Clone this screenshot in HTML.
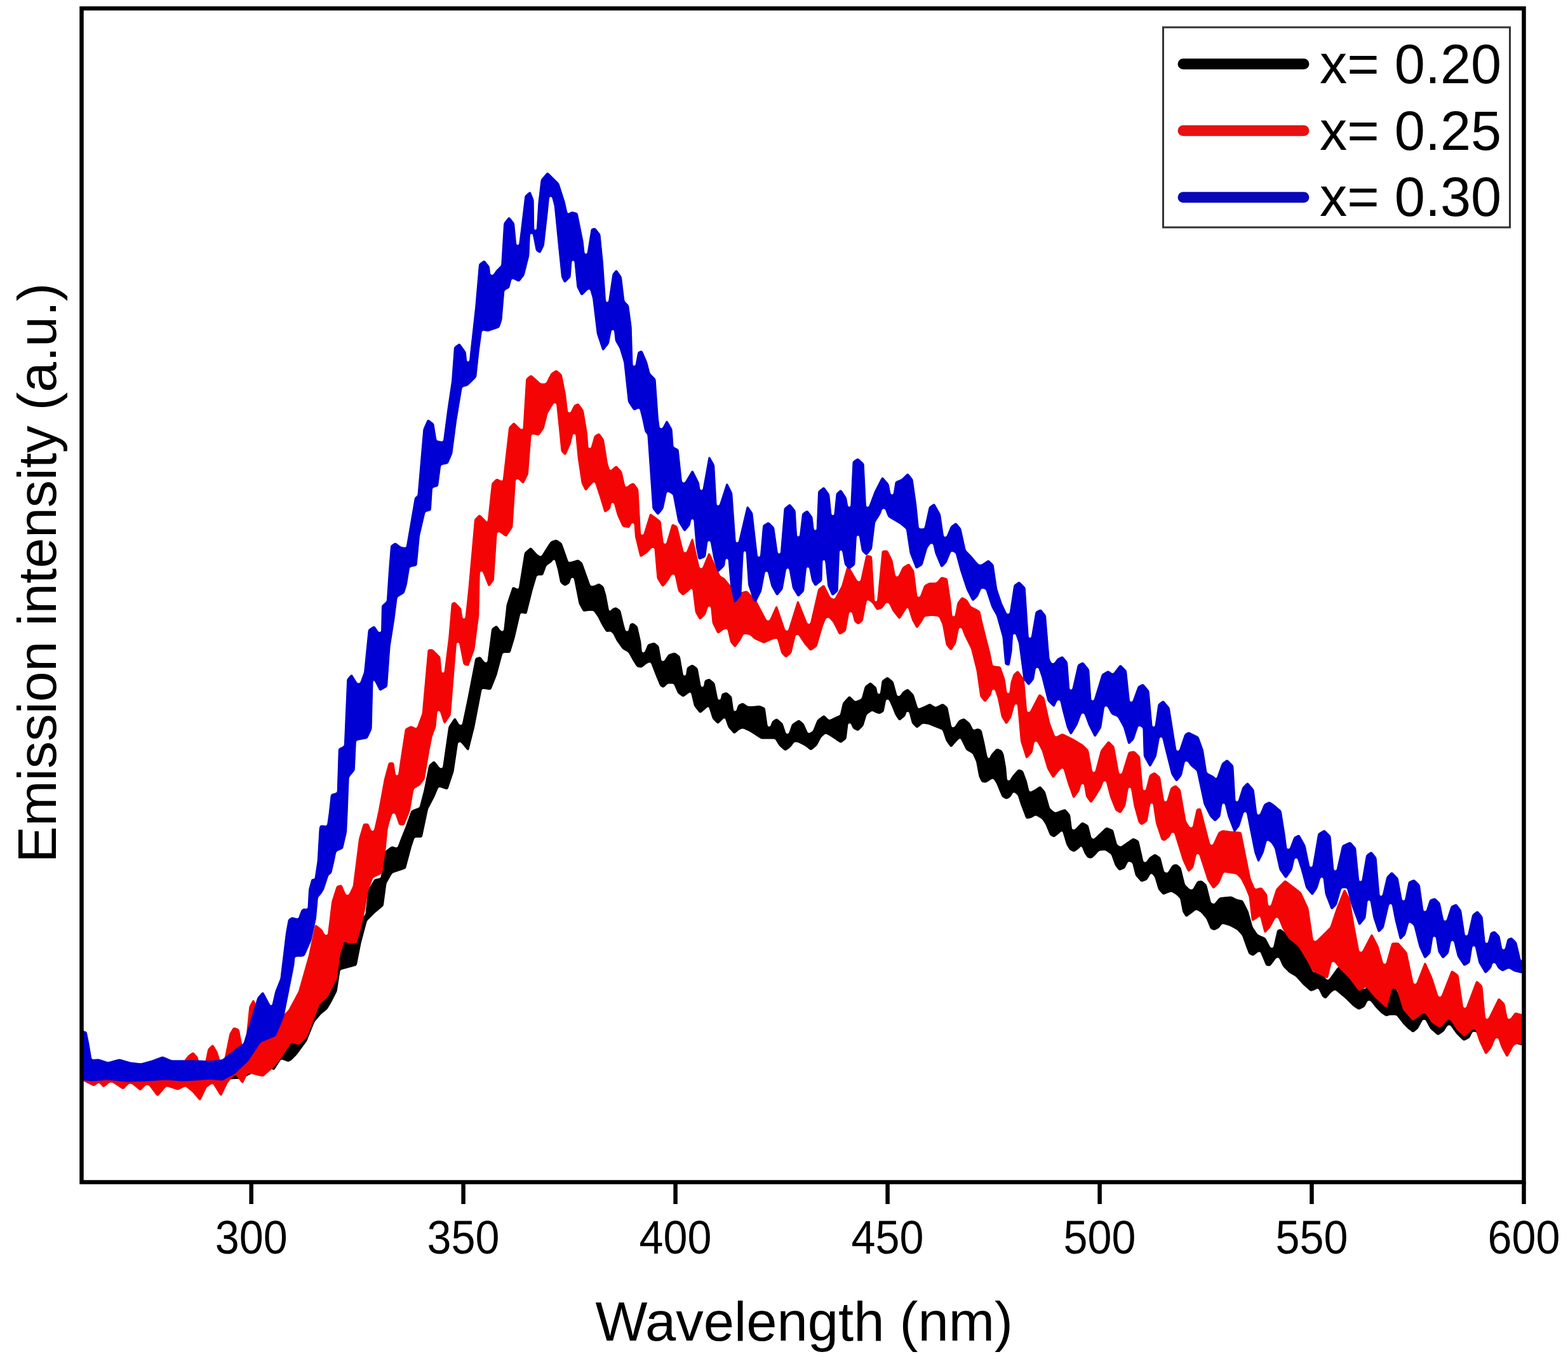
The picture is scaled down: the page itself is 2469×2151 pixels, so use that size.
<!DOCTYPE html>
<html><head><meta charset="utf-8"><title>Emission spectra</title>
<style>
html,body{margin:0;padding:0;background:#fff;overflow:hidden;}
svg{display:block;}
text{font-family:"Liberation Sans",Arial,sans-serif;fill:#000;}
</style></head>
<body>
<svg width="2469" height="2151" viewBox="0 0 2469 2151">
<rect x="0" y="0" width="2469" height="2151" fill="#fff"/>
<defs><filter id="rnd" x="-2%" y="-2%" width="104%" height="104%" color-interpolation-filters="sRGB"><feGaussianBlur in="SourceGraphic" stdDeviation="1.6"/><feComponentTransfer><feFuncA type="linear" slope="4" intercept="-1.6"/></feComponentTransfer></filter></defs>
<g stroke-linejoin="round" stroke-width="1.5">
<path d="M128.0,1688.0 L200.0,1690.0 L300.0,1690.0 L370.0,1686.0 L376.6,1697.0 L381.4,1697.0 L387.0,1680.0 L411.0,1686.0 L427.0,1672.0 L439.5,1656.0 L455.5,1632.0 L467.6,1636.0 L479.6,1624.0 L487.6,1604.0 L499.7,1572.0 L511.7,1562.0 L527.0,1532.0 L532.0,1494.6 L539.2,1471.0 L543.9,1475.8 L558.0,1475.8 L565.0,1452.4 L576.0,1440.0 L580.0,1402.0 L590.0,1385.0 L600.0,1383.0 L607.5,1340.0 L617.0,1333.0 L626.0,1336.0 L632.0,1320.0 L640.0,1300.0 L648.0,1277.0 L655.0,1274.0 L661.0,1272.0 L668.0,1245.0 L676.0,1205.0 L683.4,1198.5 L692.7,1210.2 L697.5,1210.2 L706.9,1144.6 L716.2,1130.5 L723.2,1142.2 L728.0,1142.2 L737.3,1097.7 L749.0,1036.8 L756.1,1034.5 L763.0,1043.8 L767.8,1043.8 L774.8,990.0 L781.8,985.3 L788.8,994.6 L793.6,994.6 L798.2,952.5 L807.6,924.3 L817.0,929.0 L826.4,870.5 L835.7,862.3 L845.1,872.8 L852.1,877.5 L863.8,858.7 L868.0,852.8 L876.1,850.1 L884.1,855.5 L890.8,874.2 L894.8,886.3 L904.2,883.6 L910.2,881.6 L916.3,886.3 L923.0,905.0 L929.7,923.8 L936.4,922.4 L943.1,919.1 L949.8,923.8 L953.8,937.2 L959.1,965.3 L964.5,958.6 L969.8,956.6 L976.5,961.3 L981.9,984.1 L984.9,994.8 L989.7,994.8 L992.6,982.7 L996.6,981.4 L1003.3,986.7 L1008.7,1010.8 L1010.3,1028.3 L1015.1,1028.3 L1020.7,1014.9 L1030.1,1012.2 L1036.8,1017.5 L1041.1,1041.7 L1045.9,1041.7 L1052.9,1031.0 L1062.3,1027.9 L1070.1,1033.5 L1075.6,1064.7 L1080.4,1064.7 L1082.4,1051.3 L1090.2,1046.9 L1098.0,1052.5 L1103.5,1082.6 L1108.3,1082.6 L1110.3,1071.4 L1117.0,1069.2 L1124.8,1075.9 L1130.2,1102.7 L1135.0,1102.7 L1137.1,1092.6 L1143.8,1090.4 L1151.6,1097.1 L1154.8,1120.5 L1159.6,1120.5 L1162.8,1110.5 L1169.5,1107.2 L1177.3,1112.7 L1185.1,1112.7 L1196.3,1111.6 L1204.1,1115.0 L1208.4,1145.1 L1213.2,1145.1 L1216.4,1136.2 L1223.1,1131.7 L1232.0,1139.5 L1237.4,1156.3 L1242.2,1156.3 L1247.6,1140.6 L1258.0,1133.8 L1265.2,1140.0 L1272.3,1156.1 L1280.4,1151.6 L1287.5,1133.8 L1297.3,1126.6 L1305.4,1134.6 L1317.9,1128.4 L1323.2,1126.6 L1327.7,1107.0 L1337.5,1096.2 L1346.4,1105.2 L1357.1,1100.7 L1362.5,1081.0 L1370.5,1074.8 L1379.5,1082.9 L1381.5,1093.6 L1386.3,1093.6 L1389.3,1072.1 L1397.4,1066.3 L1406.1,1073.5 L1412.4,1096.7 L1417.2,1096.7 L1422.1,1089.5 L1429.3,1085.1 L1438.0,1093.8 L1445.3,1117.0 L1455.5,1112.7 L1464.2,1108.3 L1472.9,1114.1 L1484.5,1108.3 L1491.7,1114.1 L1498.0,1146.1 L1502.8,1146.1 L1510.6,1134.5 L1517.9,1131.6 L1526.6,1138.8 L1532.4,1150.4 L1539.6,1147.5 L1545.0,1150.0 L1549.3,1168.1 L1553.7,1189.9 L1556.6,1197.9 L1561.7,1187.7 L1569.7,1179.0 L1576.9,1181.9 L1579.8,1187.7 L1583.5,1208.1 L1585.4,1229.8 L1590.2,1229.8 L1594.3,1222.6 L1603.8,1211.7 L1610.3,1213.9 L1616.1,1229.8 L1620.6,1248.3 L1629.3,1244.0 L1638.0,1238.2 L1645.3,1246.9 L1652.6,1273.0 L1661.3,1280.3 L1668.5,1277.4 L1677.2,1274.5 L1684.5,1283.2 L1687.6,1307.1 L1692.4,1307.1 L1704.1,1295.0 L1713.1,1300.0 L1718.2,1320.1 L1722.2,1322.1 L1742.3,1303.1 L1752.3,1307.1 L1758.4,1330.2 L1764.4,1334.2 L1784.5,1320.1 L1792.5,1324.2 L1798.5,1350.3 L1800.2,1358.3 L1805.0,1358.3 L1810.6,1350.3 L1818.6,1345.2 L1826.7,1350.3 L1832.7,1373.4 L1838.7,1375.4 L1846.8,1362.3 L1852.8,1361.3 L1858.8,1366.3 L1865.4,1393.2 L1873.7,1401.2 L1878.5,1401.2 L1885.9,1387.9 L1892.1,1387.0 L1899.3,1393.2 L1906.4,1421.8 L1911.8,1424.5 L1920.7,1413.8 L1938.6,1412.0 L1947.5,1416.4 L1956.4,1418.2 L1965.0,1435.0 L1972.0,1460.0 L1980.0,1472.0 L1992.1,1477.1 L2000.5,1493.2 L2005.3,1493.2 L2011.8,1464.6 L2016.3,1463.4 L2025.0,1470.0 L2032.2,1477.9 L2040.9,1486.6 L2055.0,1505.0 L2067.1,1531.6 L2081.6,1531.6 L2087.9,1543.2 L2092.7,1543.2 L2106.3,1524.3 L2116.4,1517.0 L2130.0,1530.0 L2145.9,1557.7 L2150.7,1557.7 L2162.9,1535.9 L2175.0,1545.0 L2183.7,1560.6 L2188.5,1560.6 L2194.8,1551.9 L2209.0,1580.0 L2222.6,1595.0 L2227.4,1595.0 L2242.4,1567.4 L2255.0,1590.0 L2264.7,1600.0 L2269.5,1600.0 L2281.6,1587.7 L2295.0,1605.0 L2306.0,1615.0 L2320.0,1610.0 L2340.0,1620.0 L2354.1,1619.6 L2370.0,1628.0 L2386.1,1632.0 L2398.0,1634.0 L2398.0,1645.8 L2386.1,1642.8 L2354.1,1632.7 L2339.6,1634.1 L2323.2,1624.0 L2318.4,1624.0 L2313.5,1634.1 L2304.8,1638.5 L2293.2,1626.9 L2284.0,1613.8 L2279.2,1613.8 L2272.9,1624.0 L2264.2,1629.8 L2252.6,1619.6 L2244.8,1605.1 L2240.0,1605.1 L2232.2,1619.6 L2225.0,1625.4 L2217.7,1619.6 L2210.0,1612.0 L2198.9,1597.9 L2187.3,1597.9 L2183.2,1600.0 L2175.9,1595.4 L2167.2,1586.7 L2158.0,1575.1 L2153.2,1575.1 L2148.3,1585.2 L2139.6,1589.6 L2130.9,1583.8 L2119.3,1572.2 L2101.9,1557.7 L2094.6,1563.5 L2087.4,1572.2 L2083.0,1569.3 L2075.8,1554.8 L2071.4,1557.7 L2064.2,1560.6 L2052.6,1550.4 L2040.9,1537.4 L2030.8,1531.6 L2020.6,1521.4 L2014.2,1507.5 L2009.4,1507.5 L2004.6,1514.6 L1999.3,1520.9 L1993.9,1520.0 L1989.5,1509.3 L1984.1,1496.8 L1979.6,1499.5 L1973.4,1504.8 L1967.1,1502.1 L1962.7,1490.5 L1956.4,1472.7 L1948.4,1463.8 L1936.8,1457.5 L1924.3,1453.9 L1918.9,1461.0 L1911.8,1464.6 L1906.4,1462.0 L1900.2,1446.8 L1891.2,1436.1 L1883.2,1431.6 L1877.9,1436.1 L1867.8,1443.7 L1862.8,1435.7 L1858.8,1414.6 L1852.8,1408.5 L1844.7,1403.5 L1838.7,1405.5 L1831.7,1408.5 L1824.6,1400.5 L1818.6,1380.4 L1812.6,1373.4 L1805.6,1385.4 L1797.5,1388.4 L1788.5,1378.4 L1783.5,1358.3 L1776.4,1355.3 L1770.4,1367.3 L1762.4,1370.4 L1756.3,1362.3 L1750.3,1345.2 L1740.3,1338.2 L1730.2,1339.2 L1724.2,1346.3 L1718.2,1351.3 L1713.1,1350.3 L1708.1,1343.2 L1703.1,1330.2 L1698.1,1336.2 L1691.0,1341.2 L1685.0,1338.2 L1680.0,1330.2 L1672.9,1306.4 L1667.1,1312.2 L1659.8,1318.0 L1654.0,1315.1 L1646.8,1297.7 L1641.0,1289.0 L1630.8,1283.2 L1623.5,1287.5 L1616.3,1289.0 L1607.6,1266.0 L1603.0,1251.6 L1595.8,1245.8 L1590.7,1254.5 L1584.9,1258.1 L1578.4,1254.5 L1574.0,1244.3 L1569.7,1233.5 L1563.9,1224.7 L1558.0,1228.4 L1552.2,1232.0 L1546.4,1231.3 L1542.1,1222.6 L1537.7,1199.3 L1531.9,1186.3 L1521.8,1180.5 L1512.1,1160.6 L1506.3,1166.4 L1497.5,1176.5 L1490.3,1166.4 L1484.5,1149.0 L1472.9,1144.6 L1462.7,1140.3 L1452.6,1138.8 L1443.9,1146.1 L1436.6,1138.8 L1431.7,1120.0 L1426.9,1120.0 L1425.0,1127.2 L1416.3,1134.5 L1410.0,1125.0 L1405.4,1113.2 L1399.7,1100.7 L1394.9,1100.7 L1391.0,1120.4 L1384.8,1123.9 L1379.5,1122.1 L1373.2,1118.6 L1364.3,1124.8 L1358.9,1142.7 L1350.9,1150.7 L1343.8,1147.1 L1339.9,1138.2 L1335.1,1138.2 L1332.1,1163.2 L1324.1,1169.5 L1317.0,1165.0 L1308.0,1158.8 L1300.0,1154.3 L1292.9,1160.5 L1285.7,1174.0 L1276.8,1181.1 L1267.9,1174.0 L1257.1,1168.6 L1251.0,1167.4 L1244.3,1176.4 L1236.5,1182.0 L1227.5,1174.1 L1220.8,1163.0 L1207.4,1163.0 L1198.5,1163.0 L1188.5,1156.3 L1179.5,1150.7 L1169.5,1146.2 L1163.9,1148.5 L1156.1,1155.1 L1147.2,1145.1 L1141.6,1128.4 L1138.2,1131.7 L1130.4,1139.5 L1122.6,1131.7 L1115.9,1110.5 L1110.3,1116.1 L1102.5,1122.8 L1093.6,1111.6 L1088.0,1088.2 L1083.5,1091.5 L1075.7,1097.1 L1067.9,1091.5 L1061.2,1075.9 L1051.2,1075.9 L1044.5,1082.6 L1040.0,1080.0 L1033.5,1064.5 L1024.8,1041.7 L1018.1,1044.3 L1010.0,1051.0 L1003.3,1049.7 L996.6,1039.0 L989.9,1026.9 L980.6,1021.6 L971.2,1008.2 L965.8,997.5 L961.8,993.4 L955.1,994.8 L948.4,984.1 L941.7,970.7 L935.0,961.3 L927.0,961.3 L918.9,962.6 L912.2,950.6 L906.9,923.8 L903.9,909.0 L899.1,909.0 L896.2,918.4 L889.5,922.4 L882.8,917.1 L878.8,897.0 L873.4,878.2 L868.0,884.9 L860.0,890.3 L854.5,905.6 L845.1,905.6 L838.1,929.0 L828.7,966.5 L819.3,964.2 L810.0,1004.0 L803.0,1027.4 L791.2,1027.4 L781.8,1062.6 L772.5,1086.0 L758.4,1083.7 L746.7,1144.6 L737.3,1182.0 L725.7,1168.0 L720.9,1168.0 L713.9,1214.9 L704.5,1243.0 L690.5,1238.3 L683.4,1255.0 L673.5,1273.8 L664.1,1318.3 L652.4,1318.3 L647.7,1332.4 L638.3,1367.6 L617.2,1374.6 L607.9,1391.0 L603.2,1426.2 L589.1,1437.9 L577.4,1449.6 L568.0,1484.8 L561.0,1520.0 L535.2,1527.0 L530.0,1561.0 L522.8,1575.0 L514.7,1589.0 L504.7,1597.0 L494.7,1609.0 L482.6,1639.0 L466.5,1661.0 L458.5,1669.0 L454.0,1671.5 L442.5,1667.0 L431.0,1685.0 L426.0,1681.0 L406.0,1685.0 L396.0,1690.0 L380.0,1698.0 L300.0,1702.0 L200.0,1702.0 L128.0,1700.0 Z" fill="#000000" stroke="#000000" filter="url(#rnd)"/>
<path d="M128.0,1682.0 L150.0,1686.0 L200.0,1686.0 L250.0,1684.0 L285.0,1678.0 L297.0,1662.0 L304.0,1657.0 L311.0,1665.0 L315.6,1688.0 L320.4,1688.0 L328.0,1652.0 L335.0,1645.0 L342.0,1657.0 L347.6,1675.0 L352.4,1675.0 L362.0,1628.0 L368.0,1618.0 L376.0,1621.0 L381.6,1650.0 L386.4,1650.0 L393.0,1585.0 L399.0,1574.0 L405.0,1588.0 L420.0,1610.0 L440.0,1605.0 L454.5,1591.0 L470.6,1561.0 L486.6,1504.5 L496.7,1456.0 L506.7,1464.0 L511.6,1473.0 L516.4,1473.0 L522.8,1420.0 L530.5,1395.7 L537.5,1393.4 L544.6,1409.8 L549.4,1409.8 L556.3,1395.7 L565.7,1320.7 L572.7,1297.2 L579.7,1297.2 L584.4,1309.0 L589.2,1309.0 L596.1,1278.5 L605.5,1226.9 L612.5,1201.1 L619.6,1201.1 L622.6,1221.7 L627.4,1221.7 L632.0,1190.0 L638.5,1148.0 L647.4,1143.5 L656.3,1148.0 L665.3,1123.4 L674.2,1023.0 L681.0,1022.8 L692.8,1034.5 L695.1,1060.2 L699.9,1060.2 L706.9,1004.0 L711.5,950.1 L715.8,948.1 L725.6,958.0 L728.1,975.1 L732.9,975.1 L737.9,928.5 L747.7,817.9 L755.1,810.6 L764.9,820.4 L767.4,830.2 L774.8,761.4 L782.1,754.0 L792.0,759.0 L801.8,673.0 L809.1,665.6 L819.0,675.5 L823.9,678.0 L828.8,596.8 L836.2,590.7 L846.0,599.3 L850.9,604.2 L860.0,604.1 L868.1,588.1 L876.1,583.0 L884.2,590.1 L890.2,620.2 L893.8,650.3 L898.6,650.3 L904.3,638.3 L910.3,635.3 L918.3,646.3 L924.3,682.4 L926.0,706.5 L930.8,706.5 L936.4,686.5 L943.4,682.4 L950.4,692.5 L956.5,730.6 L960.5,742.7 L966.5,736.7 L970.5,733.7 L978.6,742.7 L984.6,768.8 L992.6,762.8 L997.6,760.8 L1004.7,770.8 L1008.6,843.0 L1013.4,843.0 L1024.0,808.8 L1040.0,820.8 L1044.5,857.0 L1049.3,857.0 L1058.6,825.2 L1066.0,828.8 L1076.3,870.4 L1081.1,870.4 L1090.4,847.0 L1101.4,895.5 L1106.2,895.5 L1116.5,870.0 L1133.9,907.2 L1140.6,911.0 L1160.0,935.0 L1175.7,930.6 L1190.0,945.0 L1207.1,977.7 L1211.9,977.7 L1222.8,953.6 L1236.5,993.7 L1241.3,993.7 L1256.3,945.5 L1271.3,983.0 L1276.1,983.0 L1288.8,927.8 L1297.2,921.0 L1307.2,941.2 L1313.9,944.5 L1325.7,922.8 L1335.0,890.0 L1350.3,916.1 L1355.1,916.1 L1364.2,874.2 L1372.5,876.0 L1376.8,947.9 L1381.6,947.9 L1389.3,867.5 L1397.0,866.9 L1404.7,882.0 L1409.8,908.6 L1414.6,908.6 L1421.7,893.4 L1431.2,887.7 L1438.8,899.1 L1444.0,940.8 L1448.8,940.8 L1455.9,921.9 L1463.4,918.0 L1474.8,918.0 L1482.4,908.6 L1491.4,911.3 L1497.0,949.3 L1499.0,971.6 L1503.8,971.6 L1508.1,949.3 L1514.8,940.4 L1522.6,944.8 L1528.2,954.9 L1537.2,959.3 L1542.7,962.7 L1547.2,982.8 L1552.8,1005.1 L1558.5,1027.1 L1562.8,1048.8 L1575.0,1050.0 L1582.0,1070.0 L1585.1,1092.4 L1589.9,1092.4 L1592.0,1075.0 L1596.2,1061.9 L1602.8,1056.4 L1612.2,1069.6 L1616.8,1122.1 L1621.6,1122.1 L1636.6,1093.1 L1643.9,1098.9 L1652.6,1138.0 L1661.3,1161.3 L1672.9,1155.5 L1690.3,1164.2 L1704.8,1172.9 L1713.5,1181.6 L1719.8,1216.4 L1724.6,1216.4 L1733.8,1181.6 L1745.4,1167.1 L1754.1,1175.8 L1761.9,1219.3 L1766.7,1219.3 L1777.4,1184.5 L1785.8,1182.9 L1794.5,1191.6 L1799.4,1245.3 L1804.2,1245.3 L1810.5,1220.6 L1817.7,1216.3 L1826.4,1223.5 L1832.7,1262.7 L1837.5,1262.7 L1843.9,1241.0 L1851.1,1236.6 L1858.4,1243.9 L1867.1,1293.2 L1873.4,1303.4 L1878.2,1303.4 L1884.5,1274.3 L1890.3,1272.9 L1905.3,1330.9 L1910.1,1330.9 L1919.3,1310.6 L1925.1,1307.7 L1936.7,1309.2 L1954.1,1310.6 L1968.7,1383.2 L1975.9,1400.6 L1986.1,1397.7 L1994.5,1408.2 L1996.5,1427.1 L2001.3,1427.1 L2010.0,1400.0 L2023.5,1386.4 L2040.9,1399.5 L2048.2,1405.3 L2059.8,1430.0 L2067.6,1482.2 L2072.4,1482.2 L2085.0,1470.0 L2095.0,1460.0 L2105.0,1430.0 L2117.0,1400.0 L2125.0,1415.0 L2132.4,1459.0 L2140.1,1499.6 L2144.9,1499.6 L2160.0,1470.6 L2170.0,1490.0 L2177.9,1518.5 L2182.7,1518.5 L2191.9,1485.1 L2201.8,1484.7 L2215.0,1500.0 L2225.5,1550.0 L2230.3,1550.0 L2243.9,1515.1 L2255.0,1540.0 L2264.7,1570.3 L2269.5,1570.3 L2285.9,1528.2 L2296.1,1535.5 L2303.8,1587.7 L2308.6,1587.7 L2325.1,1544.2 L2333.8,1552.9 L2338.7,1605.1 L2343.5,1605.1 L2360.0,1571.7 L2368.7,1580.4 L2373.5,1605.1 L2378.3,1605.1 L2385.9,1594.6 L2398.0,1598.0 L2398.0,1644.3 L2389.0,1642.8 L2383.2,1645.8 L2373.0,1664.6 L2365.0,1650.0 L2359.4,1634.1 L2354.6,1634.1 L2348.0,1650.0 L2339.6,1660.3 L2330.0,1640.0 L2323.2,1620.0 L2318.4,1620.0 L2306.0,1632.0 L2295.0,1622.0 L2284.0,1605.0 L2279.2,1605.0 L2267.0,1618.0 L2255.0,1610.0 L2244.8,1595.0 L2240.0,1595.0 L2225.0,1607.0 L2210.0,1590.0 L2200.0,1557.7 L2191.9,1554.8 L2183.2,1586.7 L2165.0,1570.0 L2151.2,1553.3 L2140.0,1560.0 L2125.0,1540.0 L2110.0,1525.0 L2101.4,1514.1 L2096.6,1514.1 L2090.3,1540.3 L2080.0,1535.0 L2067.1,1528.7 L2060.0,1515.0 L2045.0,1490.0 L2030.0,1478.0 L2020.0,1462.0 L2012.9,1444.5 L2008.1,1444.5 L2000.0,1460.0 L1991.6,1469.2 L1984.0,1440.0 L1980.0,1445.0 L1971.6,1450.4 L1967.2,1412.2 L1961.4,1397.7 L1954.1,1383.2 L1946.9,1375.9 L1926.6,1373.0 L1919.3,1390.4 L1910.6,1399.1 L1901.9,1386.1 L1888.3,1344.0 L1883.5,1344.0 L1878.7,1365.7 L1871.4,1373.0 L1862.7,1354.1 L1849.2,1310.6 L1844.4,1310.6 L1841.0,1317.9 L1833.7,1323.7 L1829.3,1322.2 L1820.6,1296.1 L1815.8,1264.2 L1811.0,1264.2 L1806.1,1293.2 L1797.4,1299.0 L1793.3,1294.8 L1786.1,1268.7 L1781.2,1239.6 L1776.4,1239.6 L1771.6,1268.7 L1764.3,1280.3 L1757.0,1275.9 L1748.3,1254.1 L1742.0,1229.5 L1737.2,1229.5 L1733.8,1239.6 L1725.1,1254.1 L1717.9,1264.3 L1710.6,1254.1 L1707.2,1233.8 L1702.4,1233.8 L1699.0,1245.4 L1690.3,1257.0 L1681.6,1232.4 L1674.3,1207.7 L1667.1,1213.5 L1658.4,1225.1 L1649.7,1210.6 L1641.0,1181.6 L1633.2,1167.0 L1628.4,1167.0 L1625.0,1184.5 L1616.3,1194.6 L1607.6,1167.0 L1602.4,1108.0 L1597.6,1108.0 L1592.0,1129.0 L1584.6,1140.3 L1577.4,1128.7 L1571.6,1099.6 L1566.7,1085.1 L1561.9,1085.1 L1560.0,1093.8 L1551.2,1105.4 L1544.0,1096.7 L1538.2,1056.1 L1529.5,1021.3 L1519.3,1001.0 L1514.5,987.9 L1509.7,987.9 L1504.8,1012.6 L1497.5,1024.2 L1490.3,1015.5 L1484.5,983.5 L1478.7,970.5 L1467.1,969.0 L1455.5,970.5 L1452.6,976.3 L1443.9,989.3 L1436.6,976.3 L1429.3,953.1 L1426.4,958.9 L1416.3,974.8 L1406.1,961.8 L1399.8,948.7 L1395.0,948.7 L1388.9,957.6 L1380.9,960.3 L1374.2,949.5 L1364.8,942.8 L1358.1,977.7 L1351.4,983.0 L1346.0,979.0 L1341.7,962.9 L1336.9,962.9 L1331.3,993.7 L1322.0,999.1 L1312.6,980.3 L1305.6,972.3 L1300.8,972.3 L1295.2,985.7 L1285.8,1017.8 L1276.4,1024.5 L1267.0,1013.8 L1257.4,999.1 L1252.6,999.1 L1245.6,1028.5 L1237.6,1035.2 L1230.9,1028.5 L1224.2,1004.4 L1214.8,1007.1 L1202.8,1012.5 L1188.0,1005.8 L1180.8,999.2 L1170.7,997.6 L1165.7,1007.6 L1157.3,1019.3 L1150.6,1011.0 L1145.6,989.2 L1138.9,990.9 L1130.5,997.6 L1122.2,980.8 L1119.6,954.0 L1114.8,954.0 L1110.5,967.4 L1102.1,975.8 L1095.4,964.1 L1090.4,923.9 L1083.7,930.6 L1075.3,937.3 L1068.6,930.6 L1062.7,903.8 L1057.9,903.8 L1051.9,913.9 L1043.5,924.0 L1035.1,910.5 L1030.9,862.0 L1026.1,862.0 L1018.4,870.4 L1008.4,877.0 L1000.6,845.0 L999.0,823.0 L994.2,823.0 L990.6,831.0 L980.6,829.0 L972.5,811.0 L966.9,790.9 L962.1,790.9 L960.5,800.9 L952.4,807.0 L944.4,780.8 L936.4,756.7 L930.4,762.8 L922.3,772.8 L916.3,760.8 L910.3,720.6 L906.7,682.4 L901.9,682.4 L898.2,698.5 L890.2,716.6 L884.2,710.6 L880.2,670.4 L876.5,634.3 L871.7,634.3 L862.1,650.3 L856.0,674.4 L848.4,685.3 L836.2,682.8 L831.2,746.7 L823.9,761.4 L816.4,754.0 L811.6,754.0 L806.7,830.2 L796.9,845.0 L787.0,837.6 L782.2,837.6 L777.2,913.7 L769.8,923.6 L760.0,899.0 L755.2,899.0 L753.7,968.9 L746.7,1022.8 L737.3,1048.5 L730.3,1046.2 L723.3,1011.0 L718.5,1011.0 L709.2,1125.8 L699.8,1139.9 L692.9,1118.8 L688.1,1118.8 L685.8,1144.6 L680.0,1160.0 L676.0,1180.0 L668.0,1227.0 L661.0,1236.0 L651.0,1242.0 L645.0,1277.0 L636.0,1299.0 L629.0,1299.0 L622.4,1280.0 L617.6,1280.0 L614.0,1290.0 L610.0,1305.0 L607.0,1336.0 L601.2,1375.3 L587.2,1381.6 L579.4,1401.9 L574.7,1430.0 L568.0,1461.4 L561.0,1484.8 L546.9,1484.8 L542.2,1480.0 L535.0,1503.6 L530.0,1541.0 L514.7,1571.0 L502.7,1581.0 L490.6,1613.0 L482.6,1633.0 L470.6,1645.0 L458.5,1641.0 L442.5,1665.0 L430.0,1681.0 L414.0,1695.0 L390.0,1689.0 L382.0,1706.0 L372.4,1693.0 L367.6,1693.0 L358.0,1705.0 L348.0,1726.0 L335.0,1705.0 L325.0,1712.0 L315.0,1733.0 L304.0,1720.0 L292.0,1710.0 L280.0,1716.0 L262.0,1710.0 L248.0,1726.0 L234.4,1708.0 L229.6,1708.0 L221.0,1717.0 L207.4,1706.0 L202.6,1706.0 L194.0,1715.0 L177.4,1704.0 L172.6,1704.0 L163.0,1712.0 L156.0,1704.0 L148.0,1710.0 L140.0,1706.0 L128.0,1700.0 Z" fill="#f40404" stroke="#f40404" filter="url(#rnd)"/>
<path d="M128.0,1623.0 L136.0,1625.0 L140.0,1645.0 L144.0,1669.0 L155.0,1668.0 L170.0,1673.0 L188.0,1668.0 L205.0,1673.0 L222.0,1675.0 L240.0,1670.0 L256.0,1664.0 L270.0,1670.0 L290.0,1670.0 L310.0,1670.0 L330.0,1671.0 L350.0,1669.0 L370.0,1653.0 L384.0,1643.0 L406.0,1571.0 L414.0,1562.0 L424.0,1581.0 L428.0,1587.0 L434.0,1561.0 L442.0,1541.0 L450.5,1470.0 L454.5,1448.0 L459.6,1444.5 L470.0,1447.5 L474.7,1434.0 L477.7,1431.0 L485.0,1432.0 L486.7,1400.8 L491.3,1384.0 L495.8,1385.7 L500.3,1355.5 L503.3,1304.0 L504.8,1299.8 L515.4,1301.0 L518.4,1280.0 L521.4,1252.0 L522.3,1250.7 L531.3,1248.5 L533.5,1179.2 L542.4,1174.8 L546.9,1069.8 L553.6,1062.0 L562.4,1076.5 L567.2,1076.5 L573.7,1058.7 L580.4,991.7 L589.3,986.0 L595.9,996.0 L600.7,996.0 L601.6,953.7 L609.4,947.0 L612.5,900.0 L615.7,859.3 L622.4,854.8 L631.3,861.5 L640.0,863.0 L653.7,783.4 L658.0,781.0 L667.0,676.0 L673.8,660.6 L682.7,667.3 L687.0,694.0 L698.3,696.3 L705.0,645.0 L711.7,600.0 L715.6,546.9 L723.4,541.0 L733.2,554.7 L734.7,570.3 L739.5,570.3 L741.0,554.7 L748.8,484.4 L754.7,416.0 L762.5,410.2 L770.3,420.0 L771.8,433.6 L776.6,433.6 L782.0,425.8 L789.8,418.0 L793.8,351.6 L801.6,341.8 L809.4,351.6 L812.8,386.7 L817.6,386.7 L821.0,359.4 L827.0,308.6 L834.8,301.8 L840.0,315.0 L840.6,363.0 L845.4,363.0 L848.0,320.0 L852.3,283.2 L862.1,271.5 L871.9,281.2 L879.7,289.0 L889.0,318.0 L893.5,338.0 L900.0,333.6 L909.0,335.8 L918.0,380.4 L920.1,400.5 L924.9,400.5 L931.4,360.4 L937.0,359.2 L944.8,369.3 L949.3,414.0 L953.6,476.4 L958.4,476.4 L965.0,431.8 L970.5,425.0 L978.3,436.2 L982.8,474.2 L989.5,481.0 L994.0,514.4 L996.0,576.9 L1000.8,576.9 L1005.0,554.5 L1010.7,552.3 L1018.5,570.2 L1023.0,588.0 L1031.9,597.0 L1036.3,659.5 L1038.4,675.0 L1043.2,675.0 L1050.0,662.0 L1058.0,676.0 L1060.0,704.0 L1068.0,708.0 L1073.6,760.6 L1078.4,760.6 L1090.4,740.5 L1100.4,760.6 L1102.0,772.6 L1106.8,772.6 L1116.5,718.4 L1124.5,732.4 L1128.1,796.7 L1132.9,796.7 L1144.6,760.6 L1152.6,776.6 L1158.2,855.0 L1163.0,855.0 L1176.7,796.7 L1184.7,808.0 L1192.6,877.6 L1197.4,877.6 L1201.8,827.3 L1210.0,822.3 L1218.5,830.7 L1224.5,872.5 L1229.3,872.5 L1235.2,800.5 L1243.6,793.8 L1252.0,803.9 L1254.6,845.7 L1259.4,845.7 L1263.7,808.9 L1271.2,803.9 L1278.8,814.0 L1281.4,835.7 L1286.2,835.7 L1288.8,773.8 L1297.2,767.0 L1305.6,778.8 L1309.0,812.3 L1313.8,812.3 L1317.3,777.1 L1324.0,771.2 L1332.4,783.8 L1335.0,798.9 L1339.8,798.9 L1343.2,726.9 L1350.8,721.9 L1360.0,730.2 L1363.4,798.9 L1368.2,798.9 L1377.6,773.8 L1389.3,751.2 L1399.0,762.6 L1402.3,779.6 L1407.1,779.6 L1410.3,758.8 L1419.8,755.0 L1429.3,745.5 L1436.9,755.0 L1442.6,794.8 L1446.4,832.8 L1455.9,832.8 L1463.4,798.6 L1471.0,793.0 L1480.5,810.0 L1485.7,846.0 L1490.5,846.0 L1497.6,829.0 L1505.2,823.3 L1512.8,832.8 L1520.3,866.9 L1529.8,876.4 L1540.7,889.6 L1545.5,889.6 L1556.4,882.0 L1564.0,889.6 L1569.6,927.6 L1577.2,950.3 L1585.2,967.2 L1590.0,967.2 L1597.0,921.7 L1604.7,916.0 L1614.1,925.5 L1619.3,1005.2 L1624.1,1005.2 L1631.2,963.4 L1638.8,959.7 L1646.4,969.1 L1652.0,1037.4 L1655.4,1045.0 L1660.2,1045.0 L1665.3,1037.4 L1673.0,1033.6 L1680.5,1043.0 L1683.8,1086.7 L1688.6,1086.7 L1697.6,1046.9 L1705.2,1043.0 L1714.6,1054.5 L1717.9,1103.8 L1722.7,1103.8 L1735.5,1062.0 L1745.0,1056.4 L1752.6,1062.0 L1764.0,1046.9 L1773.4,1056.4 L1778.6,1105.7 L1783.4,1105.7 L1792.4,1081.0 L1800.0,1077.2 L1809.0,1088.3 L1814.1,1145.2 L1818.9,1145.2 L1824.1,1109.1 L1831.7,1103.4 L1841.2,1114.8 L1852.1,1183.1 L1856.9,1183.1 L1865.9,1156.5 L1871.5,1152.8 L1886.7,1160.3 L1894.3,1181.2 L1900.0,1217.2 L1911.4,1222.9 L1915.2,1228.6 L1924.6,1202.0 L1932.2,1196.4 L1941.7,1205.9 L1945.0,1262.7 L1949.8,1262.7 L1956.9,1240.0 L1964.5,1232.4 L1974.0,1243.8 L1979.1,1283.6 L1983.9,1283.6 L1991.0,1266.5 L1998.6,1262.7 L2005.7,1267.2 L2017.0,1276.7 L2022.8,1312.8 L2026.0,1337.4 L2030.8,1337.4 L2038.0,1318.4 L2045.5,1314.6 L2055.0,1331.7 L2062.1,1365.9 L2066.9,1365.9 L2075.9,1312.8 L2085.3,1307.1 L2094.8,1316.5 L2100.0,1371.5 L2104.8,1371.5 L2113.8,1331.7 L2126.1,1326.0 L2134.6,1335.5 L2139.8,1388.6 L2144.6,1388.6 L2151.7,1346.9 L2159.3,1341.2 L2166.9,1350.7 L2172.1,1411.4 L2176.9,1411.4 L2184.0,1381.0 L2191.5,1373.4 L2201.0,1383.0 L2207.6,1418.7 L2212.4,1418.7 L2218.4,1388.6 L2226.8,1385.2 L2235.2,1393.6 L2241.1,1435.5 L2245.9,1435.5 L2251.9,1417.0 L2259.5,1414.5 L2267.0,1422.0 L2273.0,1450.5 L2277.8,1450.5 L2285.4,1427.1 L2293.0,1423.7 L2300.5,1433.8 L2306.5,1474.0 L2311.3,1474.0 L2318.9,1440.5 L2326.4,1434.6 L2334.0,1443.8 L2338.3,1485.7 L2343.1,1485.7 L2347.4,1469.0 L2353.2,1466.4 L2360.8,1474.0 L2365.1,1495.8 L2369.9,1495.8 L2374.2,1479.0 L2380.0,1476.5 L2387.6,1484.0 L2394.3,1512.5 L2398.0,1514.0 L2398.0,1532.6 L2384.2,1529.2 L2375.8,1524.2 L2365.8,1529.2 L2359.1,1524.2 L2354.8,1515.8 L2350.0,1515.8 L2347.4,1524.2 L2339.0,1532.6 L2329.0,1515.8 L2323.0,1489.0 L2318.2,1489.0 L2313.9,1515.8 L2305.5,1520.9 L2295.5,1505.8 L2289.4,1480.7 L2284.6,1480.7 L2280.4,1500.8 L2272.0,1509.2 L2265.3,1499.1 L2261.0,1474.0 L2256.2,1474.0 L2251.9,1500.8 L2243.5,1509.2 L2235.2,1490.7 L2226.8,1457.2 L2218.4,1450.5 L2212.4,1472.0 L2204.8,1479.6 L2197.2,1449.3 L2192.0,1422.7 L2187.2,1422.7 L2178.3,1460.7 L2170.7,1468.3 L2163.1,1445.5 L2157.9,1417.0 L2153.1,1417.0 L2149.8,1445.5 L2140.3,1456.9 L2129.0,1426.5 L2121.4,1398.1 L2111.9,1398.1 L2104.3,1424.6 L2096.7,1432.2 L2087.2,1407.6 L2083.9,1381.0 L2079.1,1381.0 L2074.0,1398.1 L2066.4,1409.5 L2056.9,1398.1 L2049.3,1369.6 L2043.2,1350.7 L2038.4,1350.7 L2034.1,1369.6 L2024.7,1383.0 L2015.2,1369.6 L2007.6,1335.5 L2002.4,1327.2 L1994.8,1321.5 L1989.1,1342.4 L1981.5,1357.6 L1975.9,1342.4 L1968.3,1304.5 L1963.1,1277.9 L1958.3,1277.9 L1951.2,1300.7 L1943.6,1310.2 L1934.1,1285.5 L1928.9,1264.6 L1924.1,1264.6 L1920.9,1285.5 L1913.3,1293.1 L1905.7,1285.5 L1896.2,1266.5 L1884.8,1213.4 L1875.3,1205.9 L1870.2,1198.3 L1865.4,1198.3 L1860.2,1221.0 L1852.6,1230.5 L1845.0,1219.1 L1835.5,1181.2 L1830.4,1160.3 L1825.6,1160.3 L1820.3,1190.7 L1810.9,1207.7 L1801.4,1190.7 L1800.0,1145.5 L1792.4,1141.7 L1784.8,1164.5 L1777.2,1172.0 L1769.6,1145.5 L1760.2,1128.4 L1750.7,1124.6 L1743.6,1111.4 L1738.8,1111.4 L1733.6,1145.5 L1724.1,1160.7 L1714.6,1141.7 L1707.6,1122.7 L1702.8,1122.7 L1695.7,1141.7 L1686.2,1156.9 L1680.5,1145.5 L1673.0,1117.0 L1669.6,1101.9 L1664.8,1101.9 L1659.6,1113.3 L1650.2,1103.8 L1640.7,1065.8 L1635.5,1050.7 L1630.7,1050.7 L1627.4,1069.6 L1619.8,1079.0 L1612.2,1069.6 L1604.7,1012.8 L1599.4,997.6 L1594.6,997.6 L1593.0,1025.0 L1589.0,1048.0 L1583.0,1046.0 L1579.1,1003.4 L1569.6,969.3 L1562.0,956.0 L1552.6,927.6 L1545.0,925.7 L1539.3,939.0 L1531.7,946.5 L1522.2,927.6 L1512.8,899.1 L1505.2,870.7 L1497.6,866.9 L1490.0,885.8 L1482.4,893.4 L1472.9,870.7 L1469.6,855.5 L1464.8,855.5 L1459.7,863.0 L1452.0,889.6 L1442.6,895.3 L1433.1,870.7 L1427.4,832.8 L1418.0,825.2 L1399.0,813.8 L1393.8,800.5 L1389.0,800.5 L1386.0,809.0 L1377.6,822.3 L1372.5,864.2 L1364.2,874.2 L1357.5,867.5 L1353.2,842.4 L1348.4,842.4 L1345.7,889.3 L1337.4,896.0 L1330.7,889.3 L1326.4,865.8 L1321.6,865.8 L1319.0,931.0 L1310.6,937.8 L1303.9,922.8 L1299.6,881.0 L1294.8,881.0 L1293.8,914.4 L1283.8,922.8 L1278.8,914.4 L1274.4,892.6 L1269.6,892.6 L1265.4,931.0 L1257.0,939.5 L1248.6,926.0 L1242.7,894.3 L1237.9,894.3 L1231.9,927.8 L1223.5,937.8 L1215.0,922.8 L1209.2,899.3 L1204.4,899.3 L1198.4,931.0 L1190.0,948.0 L1186.7,945.3 L1178.7,921.0 L1175.1,867.0 L1170.3,867.0 L1166.7,937.3 L1156.6,949.3 L1150.6,921.0 L1147.0,879.0 L1142.2,879.0 L1140.6,891.0 L1130.5,901.0 L1124.5,881.0 L1118.9,851.0 L1114.1,851.0 L1110.4,877.0 L1100.4,881.0 L1096.4,861.0 L1092.8,816.8 L1088.0,816.8 L1086.0,826.8 L1078.0,836.9 L1068.0,820.8 L1060.0,778.6 L1050.0,772.6 L1044.0,800.7 L1036.0,810.8 L1028.0,800.7 L1020.0,684.0 L1016.2,680.0 L1011.8,659.5 L1007.3,641.6 L998.4,646.0 L989.5,632.7 L982.8,570.2 L976.0,547.9 L969.4,536.7 L967.4,518.8 L962.6,518.8 L958.2,541.0 L949.3,552.3 L940.4,525.5 L933.7,469.7 L929.2,454.0 L924.7,456.3 L915.8,465.3 L909.0,451.9 L904.8,409.5 L900.0,409.5 L898.0,436.2 L889.0,445.2 L884.6,436.2 L880.0,391.6 L873.4,324.6 L869.4,309.0 L864.6,309.0 L862.0,335.0 L856.2,386.7 L850.4,398.4 L844.5,394.5 L839.1,367.2 L834.3,367.2 L832.8,402.3 L825.0,433.6 L817.2,443.4 L805.5,437.5 L801.6,453.1 L793.8,457.0 L789.8,503.9 L785.9,515.6 L768.4,521.5 L758.6,519.5 L754.0,553.0 L749.6,593.7 L736.2,607.0 L727.3,609.3 L718.4,662.9 L711.7,714.2 L705.0,729.8 L693.8,732.0 L689.4,765.5 L680.4,767.8 L678.2,803.5 L669.3,805.7 L660.4,843.7 L655.9,890.5 L644.7,892.8 L640.3,920.0 L636.2,933.6 L625.1,940.3 L620.6,976.0 L613.9,1018.5 L609.4,1081.0 L598.3,1087.7 L587.1,1065.3 L584.9,1148.0 L578.2,1162.5 L560.3,1165.8 L558.1,1212.7 L549.1,1223.9 L546.9,1280.2 L545.5,1310.0 L539.5,1336.0 L529.0,1340.5 L526.0,1355.5 L521.4,1375.0 L516.9,1378.0 L509.4,1400.8 L504.8,1408.0 L500.3,1412.8 L497.3,1446.0 L489.8,1480.7 L479.2,1504.8 L474.7,1506.0 L464.0,1506.0 L462.6,1520.0 L454.5,1561.0 L446.5,1601.0 L434.0,1631.0 L410.0,1641.0 L390.0,1671.0 L370.0,1690.0 L350.0,1701.0 L330.0,1699.0 L320.0,1700.0 L290.0,1702.0 L260.0,1700.0 L230.0,1702.0 L200.0,1703.0 L170.0,1700.0 L145.0,1702.0 L128.0,1700.0 Z" fill="#0000d4" stroke="#0000d4" filter="url(#rnd)"/>
</g>
<g stroke="#000" stroke-width="6.5" fill="none" stroke-linecap="square">
<path d="M128.5,13.2 H2399.5 V1861.4 H128.5 Z"/>
<line x1="395.7" y1="1861.4" x2="395.7" y2="1896" stroke-linecap="butt"/>
<line x1="729.6" y1="1861.4" x2="729.6" y2="1896" stroke-linecap="butt"/>
<line x1="1063.6" y1="1861.4" x2="1063.6" y2="1896" stroke-linecap="butt"/>
<line x1="1397.6" y1="1861.4" x2="1397.6" y2="1896" stroke-linecap="butt"/>
<line x1="1731.6" y1="1861.4" x2="1731.6" y2="1896" stroke-linecap="butt"/>
<line x1="2065.5" y1="1861.4" x2="2065.5" y2="1896" stroke-linecap="butt"/>
<line x1="2399.5" y1="1861.4" x2="2399.5" y2="1896" stroke-linecap="butt"/>
</g>
<text x="395.7" y="1973.5" font-size="74" text-anchor="middle" textLength="114" lengthAdjust="spacingAndGlyphs">300</text>
<text x="729.6" y="1973.5" font-size="74" text-anchor="middle" textLength="114" lengthAdjust="spacingAndGlyphs">350</text>
<text x="1063.6" y="1973.5" font-size="74" text-anchor="middle" textLength="114" lengthAdjust="spacingAndGlyphs">400</text>
<text x="1397.6" y="1973.5" font-size="74" text-anchor="middle" textLength="114" lengthAdjust="spacingAndGlyphs">450</text>
<text x="1731.6" y="1973.5" font-size="74" text-anchor="middle" textLength="114" lengthAdjust="spacingAndGlyphs">500</text>
<text x="2065.5" y="1973.5" font-size="74" text-anchor="middle" textLength="114" lengthAdjust="spacingAndGlyphs">550</text>
<text x="2399.5" y="1973.5" font-size="74" text-anchor="middle" textLength="114" lengthAdjust="spacingAndGlyphs">600</text>
<text x="1266.2" y="2110.7" font-size="86.8" text-anchor="middle">Wavelength (nm)</text>
<text transform="translate(87.6,902) rotate(-90)" x="0" y="0" font-size="86" text-anchor="middle">Emission intensity (a.u.)</text>
<rect x="1831.5" y="43" width="546" height="315" fill="none" stroke="#333" stroke-width="3"/>
<line x1="1863" y1="100.8" x2="2053" y2="100.8" stroke="#000" stroke-width="17" stroke-linecap="round"/>
<text x="2078" y="131.3" font-size="86.5">x= 0.20</text>
<line x1="1863" y1="205.8" x2="2053" y2="205.8" stroke="#e81010" stroke-width="17" stroke-linecap="round"/>
<text x="2078" y="235.6" font-size="86.5">x= 0.25</text>
<line x1="1863" y1="310.8" x2="2053" y2="310.8" stroke="#0808b8" stroke-width="17" stroke-linecap="round"/>
<text x="2078" y="339.9" font-size="86.5">x= 0.30</text>
</svg></body></html>
